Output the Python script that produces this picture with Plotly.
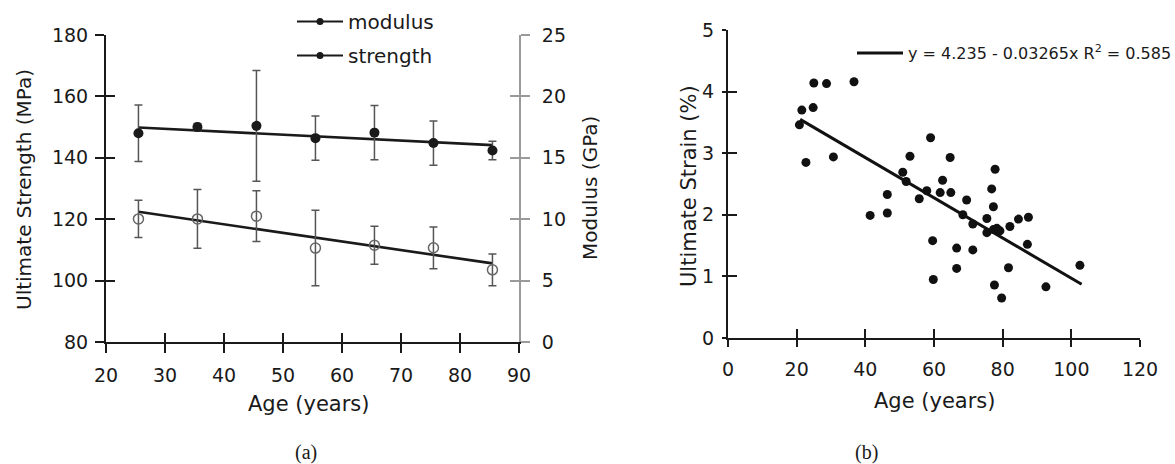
import plotly.graph_objects as go

# ---------------- data: panel (a) ----------------
ages_a = [25.5, 35.5, 45.5, 55.5, 65.5, 75.5, 85.5]
modulus_gpa = [17.0, 17.5, 17.6, 16.6, 17.05, 16.2, 15.6]
modulus_err = [2.3, 0.3, 4.5, 1.8, 2.2, 1.8, 0.75]
strength_mpa = [120.1, 120.1, 121.0, 110.6, 111.5, 110.7, 103.5]
strength_err = [6.1, 9.6, 8.3, 12.3, 6.2, 6.8, 5.2]
fit_ages_a = [25.5, 85.5]
modulus_fit = [17.47, 16.03]
strength_fit = [122.4, 105.6]

# ---------------- data: panel (b) ----------------
ages_b = [25.0, 28.7, 36.7, 21.5, 24.8, 20.8, 22.7, 30.7, 59.0, 53.0,
          64.7, 77.8, 50.9, 51.9, 62.5, 46.4, 57.9, 61.8, 64.9, 55.7,
          69.5, 76.8, 77.3, 41.4, 46.4, 68.4, 71.3, 75.4, 75.4, 78.3,
          79.2, 82.1, 84.6, 87.5, 87.2, 59.6, 66.6, 71.3, 66.6, 81.7,
          59.8, 77.6, 79.7, 92.6, 102.5, 77.3]
strain_b = [4.14, 4.13, 4.16, 3.70, 3.74, 3.46, 2.85, 2.94, 3.25, 2.95,
            2.93, 2.74, 2.69, 2.54, 2.56, 2.33, 2.39, 2.36, 2.36, 2.26,
            2.24, 2.42, 2.13, 1.99, 2.03, 2.00, 1.85, 1.94, 1.71, 1.78,
            1.74, 1.81, 1.93, 1.96, 1.52, 1.58, 1.46, 1.43, 1.13, 1.14,
            0.95, 0.86, 0.65, 0.83, 1.18, 1.76]
fit_intercept = 4.235
fit_slope = -0.03265
fit_age_range = [21.0, 103.0]
fit_label = "y = 4.235 - 0.03265x R<sup>2</sup> = 0.585"

W, H = 1175, 464
FONT = "DejaVu Sans"
INK = "#1a1a1a"
GRAY = "#9a9a9a"

def px(x):
    return x / W

def py(y):
    return (H - y) / H

fig = go.Figure()

# panel (a) traces
fig.add_trace(go.Scatter(
    x=fit_ages_a, y=modulus_fit, mode="lines", xaxis="x", yaxis="y2",
    line=dict(color=INK, width=2.6), showlegend=False, hoverinfo="skip"))
fig.add_trace(go.Scatter(
    x=ages_a, y=modulus_gpa, mode="markers", xaxis="x", yaxis="y2",
    marker=dict(color=INK, size=10),
    error_y=dict(type="data", array=modulus_err, color="#555555", thickness=1.5, width=4),
    showlegend=False))
fig.add_trace(go.Scatter(
    x=fit_ages_a, y=strength_fit, mode="lines", xaxis="x", yaxis="y",
    line=dict(color=INK, width=2.6), showlegend=False, hoverinfo="skip"))
fig.add_trace(go.Scatter(
    x=ages_a, y=strength_mpa, mode="markers", xaxis="x", yaxis="y",
    marker=dict(color="#666666", size=10, symbol="circle-open", line=dict(width=1.5, color="#666666")),
    error_y=dict(type="data", array=strength_err, color="#555555", thickness=1.5, width=4),
    showlegend=False))
# legend entries for panel (a)
for nm in ["modulus", "strength"]:
    fig.add_trace(go.Scatter(
        x=[None], y=[None], mode="lines+markers", name=nm, xaxis="x", yaxis="y",
        line=dict(color=INK, width=2), marker=dict(color=INK, size=7),
        legend="legend", legendgroup=nm))

# panel (b) traces
fig.add_trace(go.Scatter(
    x=ages_b, y=strain_b, mode="markers", xaxis="x2", yaxis="y3",
    marker=dict(color="#111111", size=9), showlegend=False))
fit_y = [fit_intercept + fit_slope * a for a in fit_age_range]
fig.add_trace(go.Scatter(
    x=fit_age_range, y=fit_y, mode="lines", xaxis="x2", yaxis="y3",
    line=dict(color="#111111", width=3), name=fit_label, legend="legend2"))

# empty traces so the inner-tick overlay axes get drawn (cross ticks)
for xa_, ya_ in [("x3", "y4"), ("x3", "y5"), ("x4", "y6")]:
    fig.add_trace(go.Scatter(x=[None], y=[None], mode="markers", xaxis=xa_, yaxis=ya_,
                             showlegend=False, hoverinfo="skip"))

tickfont = dict(family=FONT, size=19, color=INK)

def base_axis(**kw):
    d = dict(showgrid=False, zeroline=False, ticks="outside", ticklen=9, tickwidth=1.6,
             tickcolor=INK, showline=True, linewidth=2, linecolor=INK, tickfont=tickfont,
             fixedrange=True, automargin=False)
    d.update(kw)
    return d

def inner_axis(**kw):
    d = dict(showgrid=False, zeroline=False, ticks="inside", ticklen=9, tickwidth=1.6,
             tickcolor=INK, showline=False, showticklabels=False, fixedrange=True,
             automargin=False)
    d.update(kw)
    return d

xa = [px(106), px(519)]
ya = [py(342), py(35)]
xb = [px(728), px(1140)]
yb = [py(338), py(30)]

fig.update_layout(
    width=W, height=H,
    margin=dict(l=0, r=0, t=0, b=0, autoexpand=False),
    paper_bgcolor="white", plot_bgcolor="white",
    font=dict(family=FONT, color=INK),
    xaxis=base_axis(domain=xa, anchor="y", range=[20, 90], dtick=10, ticklabelstandoff=6),
    xaxis3=inner_axis(domain=xa, anchor="y", overlaying="x", range=[20, 90], dtick=10),
    yaxis=base_axis(domain=ya, anchor="x", range=[80, 180], dtick=20, ticklabelstandoff=3),
    yaxis4=inner_axis(domain=ya, anchor="x", overlaying="y", side="left", range=[80, 180], dtick=20),
    yaxis2=base_axis(anchor="x", overlaying="y", side="right", range=[0, 25], dtick=5,
                     linecolor=GRAY, tickcolor=GRAY, ticklabelstandoff=8),
    yaxis5=inner_axis(anchor="x", overlaying="y", side="right", range=[0, 25], dtick=5, tickcolor=GRAY),
    xaxis2=base_axis(domain=xb, anchor="y3", range=[0, 120], dtick=20, ticklen=7, ticklabelstandoff=6),
    xaxis4=inner_axis(domain=xb, anchor="y3", overlaying="x2", range=[0, 120], dtick=20),
    yaxis3=base_axis(domain=yb, anchor="x2", range=[0, 5], dtick=1, ticklabelstandoff=4, ticklen=4),
    yaxis6=inner_axis(domain=yb, anchor="x2", overlaying="y3", side="left", range=[0, 5], dtick=1, ticklen=9),
    legend=dict(x=px(292), y=py(38.5), xanchor="left", yanchor="middle",
                font=dict(family=FONT, size=20, color=INK), bgcolor="rgba(0,0,0,0)",
                itemwidth=46, tracegroupgap=5),
    legend2=dict(x=px(852), y=py(53), xanchor="left", yanchor="middle",
                 font=dict(family=FONT, size=16, color=INK), bgcolor="rgba(0,0,0,0)",
                 itemwidth=46),
)

def label(text, x, y, size, angle=0, family=FONT):
    fig.add_annotation(text=text, x=px(x), y=py(y), xref="paper", yref="paper",
                       xanchor="center", yanchor="middle", showarrow=False, textangle=angle,
                       font=dict(family=family, size=size, color=INK))

label("Ultimate Strength (MPa)", 24, 190, 20, -90)
label("Modulus (GPa)", 590, 188, 20, -90)
label("Age (years)", 308, 404, 21)
label("(a)", 306, 452, 20, family="Liberation Serif")
label("Ultimate Strain (%)", 689, 186, 21, -90)
label("Age (years)", 934, 401, 21)
label("(b)", 866, 452, 20, family="Liberation Serif")

fig.write_html("out.html")
